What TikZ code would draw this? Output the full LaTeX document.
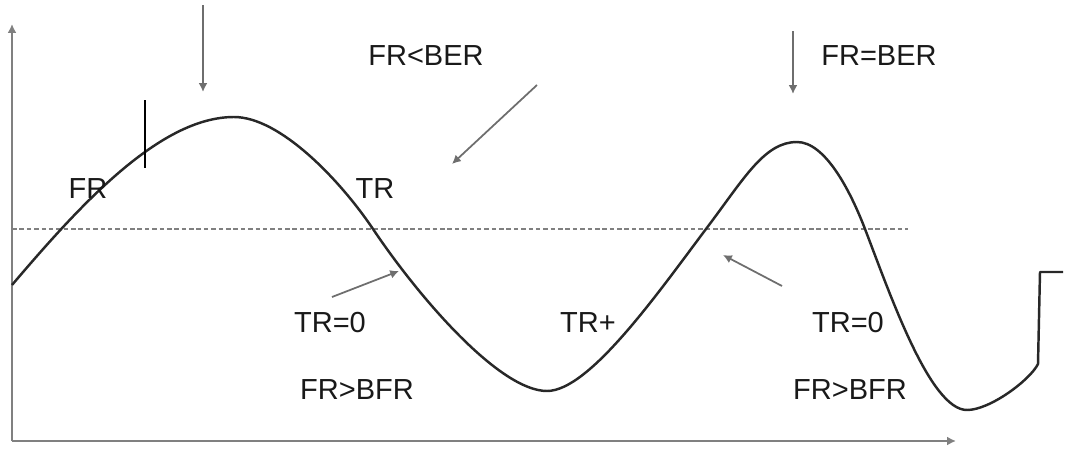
\documentclass[tikz,border=0pt]{standalone}
\usepackage{fontspec}
\setmainfont{Liberation Sans}
\usepackage{tikz}
\usetikzlibrary{arrows.meta,calc}
\definecolor{axisgray}{RGB}{128,128,128}
\definecolor{curvedark}{RGB}{40,40,40}
\definecolor{pointgray}{RGB}{110,110,110}
\tikzset{
    lbl/.style={inner sep=0pt,font=\fontsize{16.5}{18}\selectfont,text=black!90},
    axis/.style={draw=axisgray,line width=1.3pt,-{Latex[length=5pt,width=5pt]}},
    level/.style={draw=axisgray,line width=1pt,dash pattern=on 2.6pt off 1.6pt},
    wave/.style={draw=curvedark,line width=1.4pt,line join=round},
    ptr/.style={draw=pointgray,line width=1pt,-{Latex[length=5pt,width=5pt]}},
    tick/.style={draw=black,line width=1.3pt},
}

\begin{document}
\begin{tikzpicture}[x=0.02cm,y=-0.02cm]
\useasboundingbox (0,0) rectangle (1065,450);
\coordinate (o) at (12,441);
\coordinate (ytop) at (12,24);
\coordinate (xend) at (956,441);
\coordinate (lvlL) at (12,229);
\coordinate (lvlR) at (908,229);

\draw[level] (lvlL) -- (lvlR);
\draw[axis] (o) -- (ytop);
\draw[axis] (o) -- (xend);

\coordinate (w0) at (12,285);
\coordinate (top1) at (234,117);
\coordinate (x1) at (373,229);
\coordinate (bot1) at (547,391);
\coordinate (x2) at (709,225);
\coordinate (top2) at (797,142);
\coordinate (x3) at (865,229);
\coordinate (bot2) at (967,410);
\coordinate (hookA) at (1038,364);
\coordinate (hookB) at (1040,272);
\coordinate (hookC) at (1063,272);

\draw[wave] (w0) .. controls (80,205) and (160,117) .. (top1)
    .. controls (280,117) and (340,180) .. (x1)
    .. controls (420,299) and (500,391) .. (bot1)
    .. controls (590,391) and (660,290) .. (x2)
    .. controls (745,177) and (765,142) .. (top2)
    .. controls (825,142) and (850,190) .. (x3)
    .. controls (890,294) and (930,410) .. (bot2)
    .. controls (990,410) and (1030,380) .. (hookA)
    -- (hookB) -- (hookC);

\coordinate (tickT) at (145,100);
\coordinate (tickB) at (145,168);
\draw[tick] (tickT) -- (tickB);

\node[lbl] (fr)     at (88,189)  {FR};
\node[lbl] (frlber) at (426,56)  {FR<BER};
\node[lbl] (tr)     at (375,189) {TR};
\node[lbl] (freber) at (879,56)  {FR=BER};
\node[lbl] (trzL)   at (330,323) {TR=0};
\node[lbl] (frgL)   at (357,390) {FR>BFR};
\node[lbl] (trplus) at (588,323) {TR+};
\node[lbl] (trzR)   at (848,323) {TR=0};
\node[lbl] (frgR)   at (850,390) {FR>BFR};

\coordinate (p1a) at (203,5);   \coordinate (p1b) at (203,92);
\coordinate (p2a) at (793,31);  \coordinate (p2b) at (793,94);
\coordinate (p3a) at (537,85);  \coordinate (p3b) at (452,164);
\coordinate (p4a) at (332,297); \coordinate (p4b) at (399,271);
\coordinate (p5a) at (782,286); \coordinate (p5b) at (723,255);

\draw[ptr] (p1a) -- (p1b);
\draw[ptr] (p2a) -- (p2b);
\draw[ptr] (p3a) -- (p3b);
\draw[ptr] (p4a) -- (p4b);
\draw[ptr] (p5a) -- (p5b);
\end{tikzpicture}
\end{document}
